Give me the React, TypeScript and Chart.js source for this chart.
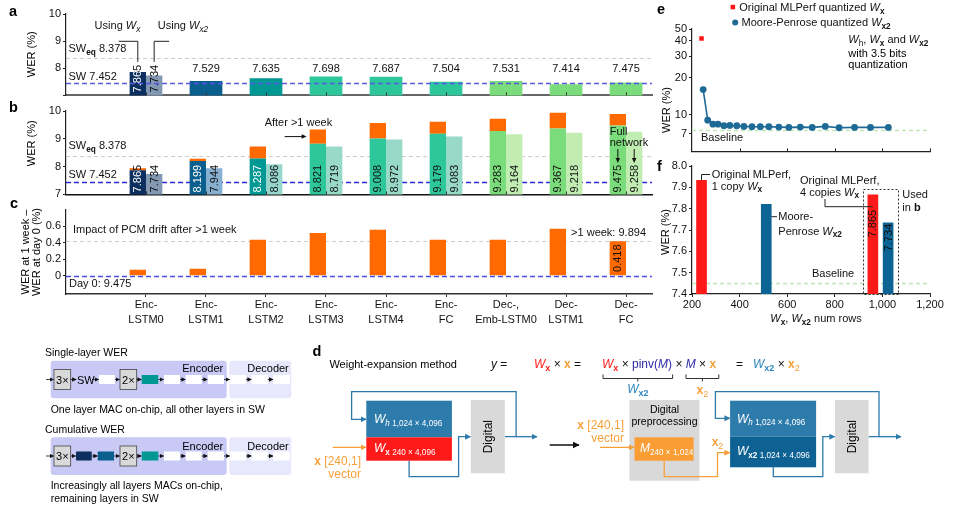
import React, { useEffect, useRef } from 'react';
import { Chart, registerables } from 'chart.js';

Chart.register(...registerables);

const FONT = '"Liberation Sans", Arial, Helvetica, sans-serif';
Chart.defaults.font.family = FONT;
Chart.defaults.font.size = 11;
Chart.defaults.color = '#111';

// ---------------- data ----------------
const layerLabels = [
  ['Enc-', 'LSTM0'], ['Enc-', 'LSTM1'], ['Enc-', 'LSTM2'], ['Enc-', 'LSTM3'], ['Enc-', 'LSTM4'],
  ['Enc-', 'FC'], ['Dec-,', 'Emb-LSTM0'], ['Dec-', 'LSTM1'], ['Dec-', 'FC'],
];
const singleWerWx = [7.865, 7.529, 7.635, 7.698, 7.687, 7.504, 7.531, 7.414, 7.475];
const singleWerWx2 = [7.734, null, null, null, null, null, null, null, null];
const cumWerDay0 = [7.865, 8.199, 8.287, 8.821, 9.008, 9.179, 9.283, 9.367, 9.475];
const cumWerWx2 = [7.734, 7.944, 8.086, 8.719, 8.972, 9.083, 9.164, 9.218, 9.258];
const driftWeek = [0.073, 0.085, 0.436, 0.517, 0.557, 0.436, 0.436, 0.569, 0.418];
const swWer = 7.452;
const swEqWer = 8.378;
const fullNetWeekWer = 9.894;
const layerDark = ['#0c2f5f', '#0b5f8e', '#009893', '#2dc79b', '#2dc79b', '#2dc79b', '#7bdc7b', '#7bdc7b', '#7bdc7b'];
const layerLight = ['#8298b3', '#87afd0', '#97d6cd', '#98d9c7', '#98d9c7', '#98d9c7', '#c1edb3', '#c1edb3', '#c1edb3'];
const driftColor = '#ff6a00';
const werTicksAB = [7, 8, 9, 10];
const driftTicks = [0, 0.2, 0.4, 0.6];

const pinvRows = [247, 266, 288, 309, 334, 359, 388, 418, 452, 487, 523, 565, 607, 655, 705, 760, 818, 883, 950, 1025];
const pinvWer = [16.0, 9.0, 8.35, 8.35, 8.1, 8.15, 8.1, 8.0, 7.95, 7.95, 7.95, 7.9, 7.85, 7.9, 7.85, 8.0, 7.8, 7.85, 7.85, 7.85];
const origRows = [240];
const origWer = [41.9];
const baselineWer = 7.452;
const eWerTicks = [7, 10, 20, 30, 40, 50];
const rowTicks = [200, 400, 600, 800, 1000, 1200];
const fOrigRows = [240, 960];
const fOrigWer = [7.933, 7.865];
const fPinvRows = [512, 1024];
const fPinvWer = [7.82, 7.734];
const fWerTicks = [7.4, 7.5, 7.6, 7.7, 7.8, 7.9, 8.0];

// ---------------- helpers ----------------
type Seg = { t: string; i?: boolean; b?: boolean; sub?: boolean; c?: string };
const fontStr = (size: number, s: any) => `${s.i ? 'italic ' : ''}${s.b ? 'bold ' : ''}${size}px ${FONT}`;

function drawRich(ctx: any, segs: Seg[], x: number, y: number, size = 11, color = '#111', align = 'left') {
  ctx.save();
  ctx.textBaseline = 'middle';
  ctx.textAlign = 'left';
  const sz = (s: Seg) => (s.sub ? size * 0.75 : size);
  let w = 0;
  for (const s of segs) { ctx.font = fontStr(sz(s), s); w += ctx.measureText(s.t).width; }
  let cx = align === 'left' ? x : align === 'center' ? x - w / 2 : x - w;
  for (const s of segs) {
    ctx.font = fontStr(sz(s), s);
    ctx.fillStyle = s.c || color;
    ctx.fillText(s.t, cx, s.sub ? y + size * 0.3 : y);
    cx += ctx.measureText(s.t).width;
  }
  ctx.restore();
}

function rotText(ctx: any, text: string, x: number, y: number, color: string, align = 'left', size = 11) {
  ctx.save();
  ctx.translate(x, y);
  ctx.rotate(-Math.PI / 2);
  ctx.font = `${size}px ${FONT}`;
  ctx.fillStyle = color;
  ctx.textAlign = align;
  ctx.textBaseline = 'middle';
  ctx.fillText(text, 0, 0.5);
  ctx.restore();
}

function barLabel(ctx: any, bar: any, text: string, yStart: number, white: boolean) {
  if (!white) { rotText(ctx, text, bar.x, yStart, '#111'); return; }
  ctx.save();
  ctx.beginPath(); ctx.rect(bar.x - 20, 0, 40, bar.y); ctx.clip();
  rotText(ctx, text, bar.x, yStart, '#111');
  ctx.restore();
  ctx.save();
  ctx.beginPath(); ctx.rect(bar.x - bar.width / 2, bar.y, bar.width, bar.base - bar.y); ctx.clip();
  rotText(ctx, text, bar.x, yStart, '#fff');
  ctx.restore();
}

function hLine(chart: any, value: number, color: string, dash: number[], width = 1) {
  const { ctx, chartArea: ca, scales: { y } } = chart;
  const py = Math.round(y.getPixelForValue(value)) + 0.5;
  ctx.save();
  ctx.strokeStyle = color; ctx.lineWidth = width; ctx.setLineDash(dash);
  ctx.beginPath(); ctx.moveTo(ca.left, py); ctx.lineTo(ca.right, py); ctx.stroke();
  ctx.restore();
}

function innerTicksX(chart: any, values: number[], len = 3, color = '#333') {
  const { ctx, chartArea: ca, scales: { x } } = chart;
  ctx.save(); ctx.strokeStyle = color; ctx.lineWidth = 1;
  ctx.beginPath();
  values.forEach((v) => { const px = Math.round(x.getPixelForValue(v)) + 0.5; ctx.moveTo(px, ca.bottom); ctx.lineTo(px, ca.bottom - len); });
  ctx.stroke(); ctx.restore();
}

function arrow(ctx: any, x1: number, y1: number, x2: number, y2: number, color = '#111', head = 5) {
  const a = Math.atan2(y2 - y1, x2 - x1);
  const c = Math.cos(a), s = Math.sin(a);
  ctx.save(); ctx.strokeStyle = color; ctx.fillStyle = color; ctx.lineWidth = 1;
  ctx.beginPath(); ctx.moveTo(x1, y1); ctx.lineTo(x2 - c * head * 0.8, y2 - s * head * 0.8); ctx.stroke();
  ctx.beginPath(); ctx.moveTo(x2, y2);
  ctx.lineTo(x2 - head * c + head * 0.45 * s, y2 - head * s - head * 0.45 * c);
  ctx.lineTo(x2 - head * c - head * 0.45 * s, y2 - head * s + head * 0.45 * c);
  ctx.closePath(); ctx.fill(); ctx.restore();
}

function polyline(ctx: any, pts: number[][], color = '#222') {
  ctx.save(); ctx.strokeStyle = color; ctx.lineWidth = 1;
  ctx.beginPath();
  pts.forEach(([px, py], k) => (k ? ctx.lineTo(px, py) : ctx.moveTo(px, py)));
  ctx.stroke(); ctx.restore();
}

const idxData = (ys: (number | null)[]) => ys.map((y, i) => ({ x: i, y }));
const xyData = (xs: number[], ys: number[]) => xs.map((x, i) => ({ x, y: ys[i] }));

function layerX(showLabels: boolean, height: number, borderColor: string, borderWidth: number) {
  return {
    type: 'linear', min: -1.333, max: 8.433, offset: false, z: 1,
    afterBuildTicks: (s: any) => { s.ticks = layerLabels.map((_, i) => ({ value: i })); },
    afterFit: (s: any) => { s.height = height; },
    grid: { offset: false, drawOnChartArea: false, drawTicks: showLabels, tickLength: 3, color: '#333' },
    border: { color: borderColor, width: borderWidth },
    ticks: {
      display: showLabels, autoSkip: false, maxRotation: 0, minRotation: 0, padding: 1,
      font: { size: 11, lineHeight: 1.32 }, color: '#111',
      callback: (v: any) => layerLabels[v] ?? '',
    },
  };
}

function valueY(min: number, max: number, ticks: number[], width: number, fmt: (v: number) => string, extra: any = {}) {
  return {
    type: 'linear', min, max,
    afterBuildTicks: (s: any) => { s.ticks = ticks.map((v) => ({ value: v })); },
    afterFit: (s: any) => { s.width = width; },
    grid: { drawOnChartArea: false, tickLength: 3, color: '#222' },
    border: { color: '#222', width: 1.2 },
    ticks: { padding: 2, color: '#111', font: { size: 11 }, callback: (v: any) => fmt(Number(v)) },
    ...extra,
  };
}

const baseOpts = (padding: any) => ({
  animation: false, responsive: false, maintainAspectRatio: false, events: [],
  layout: { padding },
  plugins: { legend: { display: false }, tooltip: { enabled: false } },
});

// ---------------- panel a ----------------
const plugA = {
  id: 'plugA',
  beforeDatasetsDraw(chart: any) { hLine(chart, swEqWer, '#cccccc', [4, 3], 1); },
  afterDatasetsDraw(chart: any) {
    const { ctx, chartArea: ca, scales: { y } } = chart;
    hLine(chart, swWer, '#5656e8', [5, 3], 1.5);
    innerTicksX(chart, layerLabels.map((_, i) => i));
    drawRich(ctx, [{ t: 'SW' }, { t: 'eq', sub: true, b: true }, { t: ' ' + swEqWer.toFixed(3) }], ca.left + 2.5, y.getPixelForValue(swEqWer) - 9);
    drawRich(ctx, [{ t: 'SW ' + swWer.toFixed(3) }], ca.left + 2.5, y.getPixelForValue(swWer) - 6);
    const m0 = chart.getDatasetMeta(0), m1 = chart.getDatasetMeta(1);
    singleWerWx.forEach((v, i) => {
      const bar = m0.data[i];
      const v2 = singleWerWx2[i];
      if (v2 == null) {
        drawRich(ctx, [{ t: v.toFixed(3) }], bar.x, y.getPixelForValue(8) + 1, 11, '#111', 'center');
      } else {
        const b1 = m1.data[i];
        barLabel(ctx, bar, v.toFixed(3), ca.bottom - 3, true);
        barLabel(ctx, b1, v2.toFixed(3), ca.bottom - 3, false);
        ctx.font = `11px ${FONT}`;
        const lineEnd = ca.bottom - 3 - ctx.measureText(v.toFixed(3)).width - 3;
        const ly = ca.top + 27.3;
        polyline(ctx, [[bar.x - 19, ly], [bar.x, ly], [bar.x, lineEnd]]);
        polyline(ctx, [[b1.x + 15, ly], [b1.x, ly], [b1.x, lineEnd]]);
        drawRich(ctx, [{ t: 'Using ' }, { t: 'W', i: true }, { t: 'x', i: true, sub: true }], bar.x + 2.5, ca.top + 12, 11, '#111', 'right');
        drawRich(ctx, [{ t: 'Using ' }, { t: 'W', i: true }, { t: 'x2', i: true, sub: true }], b1.x + 3.7, ca.top + 12, 11, '#111', 'left');
      }
    });
  },
};

const configA = () => ({
  type: 'bar',
  data: {
    datasets: [
      { label: 'Single-layer WER', data: idxData(singleWerWx), backgroundColor: layerDark, skipNull: true },
      { label: 'Single-layer WER, Wx2', data: idxData(singleWerWx2), backgroundColor: layerLight, skipNull: true },
    ],
  },
  options: {
    ...baseOpts({ top: 14, right: 8, left: 0, bottom: 0 }),
    datasets: { bar: { categoryPercentage: 0.545, barPercentage: 1 } },
    scales: {
      x: layerX(false, 6, '#666', 2),
      y: valueY(7, 10, werTicksAB, 66, (v) => (v === 7 ? '' : String(v))),
    },
  },
  plugins: [plugA],
});

// ---------------- panel b ----------------
const plugB = {
  id: 'plugB',
  beforeDatasetsDraw(chart: any) {
    hLine(chart, swEqWer, '#cccccc', [4, 3], 1);
    hLine(chart, swWer, '#2a2ad8', [5, 3], 1.3);
  },
  afterDatasetsDraw(chart: any) {
    const { ctx, chartArea: ca, scales: { y } } = chart;
    innerTicksX(chart, layerLabels.map((_, i) => i));
    drawRich(ctx, [{ t: 'SW' }, { t: 'eq', sub: true, b: true }, { t: ' ' + swEqWer.toFixed(3) }], ca.left + 2.5, y.getPixelForValue(swEqWer) - 10);
    drawRich(ctx, [{ t: 'SW ' + swWer.toFixed(3) }], ca.left + 2.5, y.getPixelForValue(swWer) - 7);
    const m0 = chart.getDatasetMeta(0), m1 = chart.getDatasetMeta(1), m2 = chart.getDatasetMeta(2);
    cumWerDay0.forEach((v, i) => {
      barLabel(ctx, m0.data[i], v.toFixed(3), ca.bottom - 2, i < 3);
      barLabel(ctx, m2.data[i], cumWerWx2[i].toFixed(3), ca.bottom - 2, false);
    });
    const d3 = m1.data[3];
    const ay = (d3.y + d3.base) / 2, ax2 = d3.x - d3.width / 2 - 3;
    arrow(ctx, ax2 - 22, ay, ax2, ay);
    drawRich(ctx, [{ t: 'After >1 week' }], ax2 - 42, ay - 14);
    const d8 = m0.data[8], l8 = m2.data[8];
    drawRich(ctx, [{ t: 'Full' }], d8.x - d8.width / 2, ca.top + 20.7);
    drawRich(ctx, [{ t: 'network' }], d8.x - d8.width / 2, ca.top + 32.3);
    arrow(ctx, d8.x, ca.top + 38, d8.x, ca.top + 52);
    arrow(ctx, l8.x, ca.top + 38, l8.x, ca.top + 52);
  },
};

const configB = () => ({
  type: 'bar',
  data: {
    datasets: [
      { label: 'Cumulative WER, day 0', data: idxData(cumWerDay0), backgroundColor: layerDark, stack: 'chip' },
      { label: 'After >1 week', data: idxData(driftWeek), backgroundColor: driftColor, stack: 'chip' },
      { label: 'Cumulative WER, Wx2', data: idxData(cumWerWx2), backgroundColor: layerLight, stack: 'wx2' },
    ],
  },
  options: {
    ...baseOpts({ top: 11, right: 8, left: 0, bottom: 0 }),
    datasets: { bar: { categoryPercentage: 0.545, barPercentage: 1 } },
    scales: {
      x: layerX(false, 7, '#111', 1.5),
      y: valueY(7, 10, werTicksAB, 66, (v) => String(v), { stacked: true }),
    },
  },
  plugins: [plugB],
});

// ---------------- panel c ----------------
const plugC = {
  id: 'plugC',
  beforeDatasetsDraw(chart: any) { hLine(chart, driftWeek[8], '#cccccc', [4, 3], 1); },
  afterDatasetsDraw(chart: any) {
    const { ctx, chartArea: ca, scales: { y } } = chart;
    hLine(chart, 0, '#4a4ae6', [5, 3], 1.5);
    const yw = y.getPixelForValue(driftWeek[8]);
    drawRich(ctx, [{ t: 'Impact of PCM drift after >1 week' }], ca.left + 7, yw - 11);
    drawRich(ctx, [{ t: '>1 week: ' + fullNetWeekWer.toFixed(3) }], ca.right - 6, yw - 8, 11, '#111', 'right');
    drawRich(ctx, [{ t: 'Day 0: ' + cumWerDay0[8].toFixed(3) }], ca.left + 3, y.getPixelForValue(0) + 8.5);
    const b8 = chart.getDatasetMeta(0).data[8];
    rotText(ctx, driftWeek[8].toFixed(3), b8.x, (b8.y + b8.base) / 2, '#111', 'center');
  },
};

const configC = () => ({
  type: 'bar',
  data: {
    datasets: [
      { label: 'WER at 1 week - WER at day 0', data: idxData(driftWeek), backgroundColor: driftColor },
      { label: '', data: idxData(layerLabels.map(() => null)), backgroundColor: '#fff' },
    ],
  },
  options: {
    ...baseOpts({ top: 9.5, right: 8, left: 0, bottom: 0 }),
    datasets: { bar: { categoryPercentage: 0.545, barPercentage: 1 } },
    scales: {
      x: layerX(true, 41, '#333', 1.5),
      y: valueY(-0.22, 0.8, driftTicks, 66, (v) => (v === 0 ? '0' : v.toFixed(1))),
    },
  },
  plugins: [plugC],
});

// ---------------- panel e ----------------
const plugE = {
  id: 'plugE',
  beforeDatasetsDraw(chart: any) { hLine(chart, baselineWer, '#bfe6b5', [4, 3], 1.3); },
  afterDatasetsDraw(chart: any) {
    const { ctx, chartArea: ca, scales: { y } } = chart;
    innerTicksX(chart, rowTicks.slice(1), 3, '#222');
    drawRich(ctx, [{ t: 'Baseline' }], ca.left + 9, y.getPixelForValue(baselineWer) + 8);
  },
};

const configE = () => ({
  type: 'line',
  data: {
    datasets: [
      {
        label: 'Moore-Penrose quantized Wx2', data: xyData(pinvRows, pinvWer),
        borderColor: '#1d6a96', backgroundColor: '#1d6a96', borderWidth: 1.6,
        pointRadius: 3.4, pointBorderWidth: 0, pointBackgroundColor: '#1d6a96',
      },
      {
        label: 'Original MLPerf quantized Wx', data: xyData(origRows, origWer), showLine: false,
        pointStyle: 'rect', pointRadius: 3.2, pointBorderWidth: 0, backgroundColor: '#ff1414', pointBackgroundColor: '#ff1414',
      },
    ],
  },
  options: {
    ...baseOpts({ top: 29, right: 28, left: 0, bottom: 0 }),
    scales: {
      x: {
        type: 'linear', min: 200, max: 1200, offset: false,
        afterBuildTicks: (s: any) => { s.ticks = rowTicks.map((v) => ({ value: v })); },
        afterFit: (s: any) => { s.height = 4; },
        ticks: { display: false },
        grid: { drawOnChartArea: false, drawTicks: false },
        border: { color: '#222', width: 1.2 },
      },
      y: {
        type: 'logarithmic', min: 5, max: 50,
        afterBuildTicks: (s: any) => { s.ticks = eWerTicks.map((v) => ({ value: v })); },
        afterFit: (s: any) => { s.width = 32; },
        ticks: { padding: 2, color: '#111', font: { size: 11 }, callback: (v: any) => String(v) },
        grid: { drawOnChartArea: false, tickLength: 3, color: '#222' },
        border: { color: '#222', width: 1.2 },
      },
    },
  },
  plugins: [plugE],
});

// ---------------- panel f ----------------
const plugF = {
  id: 'plugF',
  beforeDatasetsDraw(chart: any) { hLine(chart, baselineWer, '#bfe6b5', [4, 3], 1.3); },
  afterDatasetsDraw(chart: any) {
    const { ctx, chartArea: ca, scales: { y } } = chart;
    const r = chart.getDatasetMeta(0).data, b = chart.getDatasetMeta(1).data;
    drawRich(ctx, [{ t: 'Baseline' }], ca.left + 120, y.getPixelForValue(baselineWer) - 9);
    const bx0 = r[1].x - r[1].width / 2 - 4.5, bx1 = b[1].x + b[1].width / 2 + 5.5, by = r[1].y - 5.5;
    ctx.save(); ctx.strokeStyle = '#333'; ctx.lineWidth = 1; ctx.setLineDash([2, 2]);
    ctx.strokeRect(Math.round(bx0) + 0.5, Math.round(by) + 0.5, Math.round(bx1 - bx0), Math.round(ca.bottom - by));
    ctx.restore();
    rotText(ctx, fOrigWer[1].toFixed(3), r[1].x, r[1].y + 15, '#111', 'right');
    rotText(ctx, fPinvWer[1].toFixed(3), b[1].x, b[1].y + 1, '#111', 'right');
    polyline(ctx, [[r[0].x, r[0].y], [r[0].x, ca.top + 8.5], [ca.left + 18, ca.top + 8.5]]);
    drawRich(ctx, [{ t: 'Original MLPerf,' }], ca.left + 19.7, ca.top + 9);
    drawRich(ctx, [{ t: '1 copy ' }, { t: 'W', i: true }, { t: 'x', b: true, sub: true }], ca.left + 19.7, ca.top + 20.7);
    polyline(ctx, [[b[0].x + b[0].width / 2, ca.top + 50.7], [ca.left + 85, ca.top + 50.7]]);
    drawRich(ctx, [{ t: 'Moore-' }], ca.left + 86.3, ca.top + 50.7);
    drawRich(ctx, [{ t: 'Penrose ' }, { t: 'W', i: true }, { t: 'x2', b: true, sub: true }], ca.left + 86.3, ca.top + 65.7);
    drawRich(ctx, [{ t: 'Original MLPerf,' }], ca.left + 108, ca.top + 14.7);
    drawRich(ctx, [{ t: '4 copies ' }, { t: 'W', i: true }, { t: 'x', b: true, sub: true }], ca.left + 108, ca.top + 26.7);
    polyline(ctx, [[ca.left + 133, ca.top + 33], [ca.left + 133, ca.top + 40.7], [r[1].x, ca.top + 40.7]]);
    drawRich(ctx, [{ t: 'Used' }], ca.left + 210.3, ca.top + 29);
    drawRich(ctx, [{ t: 'in ' }, { t: 'b', b: true }], ca.left + 210.3, ca.top + 41.7);
  },
};

const configF = () => ({
  type: 'bar',
  data: {
    datasets: [
      { label: 'Original MLPerf', data: xyData(fOrigRows, fOrigWer), backgroundColor: '#ff1a1a', grouped: false, barThickness: 10 },
      { label: 'Moore-Penrose', data: xyData(fPinvRows, fPinvWer), backgroundColor: '#0b6494', grouped: false, barThickness: 10 },
    ],
  },
  options: {
    ...baseOpts({ top: 16, right: 28, left: 0, bottom: 0 }),
    scales: {
      x: {
        type: 'linear', min: 200, max: 1200, offset: false, z: 1,
        afterBuildTicks: (s: any) => { s.ticks = rowTicks.map((v) => ({ value: v })); },
        afterFit: (s: any) => { s.height = 31; },
        ticks: { padding: 1, color: '#111', font: { size: 11 }, maxRotation: 0, autoSkip: false, callback: (v: any) => Number(v).toLocaleString('en-US') },
        grid: { offset: false, drawOnChartArea: false, tickLength: 3, color: '#222' },
        border: { color: '#222', width: 1.2 },
      },
      y: valueY(7.4, 8.0, fWerTicks, 32, (v) => v.toFixed(1)),
    },
  },
  plugins: [plugF],
});

// ---------------- components ----------------
function ChartBox({ left, top, width, height, config }: any) {
  const ref = useRef<HTMLCanvasElement>(null);
  useEffect(() => {
    const c = new Chart(ref.current as HTMLCanvasElement, config() as any);
    return () => c.destroy();
  }, []);
  return <canvas ref={ref} width={width} height={height} style={{ position: 'absolute', left, top, width, height }} />;
}

function RT({ x, y, segs, size = 11, anchor = 'start', fill = '#111', subScale = 0.75 }: any) {
  let sh = false;
  const kids = segs.map((s: any, k: number) => {
    let dy: number | undefined;
    if (s.sub && !sh) { dy = size * 0.32; sh = true; } else if (!s.sub && sh) { dy = -size * 0.32; sh = false; }
    return (
      <tspan key={k} dy={dy} fontStyle={s.i ? 'italic' : undefined} fontWeight={s.b ? 'bold' : undefined}
        fill={s.c} fontSize={s.sub ? size * subScale : undefined}>{s.t}</tspan>
    );
  });
  return (
    <text x={x} y={y} fontSize={size} textAnchor={anchor} dominantBaseline="central" fill={fill} style={{ whiteSpace: 'pre' }}>{kids}</text>
  );
}

const RED = '#ff1a1a', ORANGE = '#f7a03a', STEEL = '#2c7bab', DBLUE = '#0d6193', GRAY = '#d9d9d9', PURP = '#2c2ca8', FBLUE = '#2e86c1';

type El = [string, number, number, string?];
const rowA: El[] = [['box', 54, 70.7, '3×'], ['sw', 76.5, 92], ['w', 99, 115], ['box', 120, 136.7, '2×'], ['teal', 141.7, 158.3],
  ['w', 164, 180], ['w', 185.7, 201.7], ['w', 207.7, 224], ['w', 230, 246], ['w', 251.7, 267.7], ['w', 273.3, 290]];
const rowB: El[] = [['box', 54, 70.7, '3×'], ['navy', 76, 91.7], ['blue', 97.7, 114], ['box', 120, 136.7, '2×'], ['teal', 141.7, 158.3],
  ['w', 164, 180], ['w', 185.7, 201.7], ['w', 207.7, 224], ['w', 230, 246], ['w', 251.7, 267.7], ['w', 273.3, 290]];
const elFill: any = { w: '#ffffff', teal: '#009893', navy: '#0c2f5f', blue: '#0b5f8e' };

function Row({ els, cy }: { els: El[]; cy: number }) {
  const out: any[] = [];
  let prev = 46;
  els.forEach(([k, x0, x1, label], i) => {
    out.push(<line key={'a' + i} x1={prev} y1={cy} x2={x0 - 0.3} y2={cy} stroke="#111" strokeWidth={0.8} markerEnd="url(#aks)" />);
    if (k === 'box') {
      out.push(<rect key={'r' + i} x={x0} y={cy - 10} width={x1 - x0} height={20} fill={GRAY} stroke="#444" strokeWidth={0.8} />);
      out.push(<text key={'t' + i} x={(x0 + x1) / 2} y={cy} textAnchor="middle" dominantBaseline="central" fontSize={11}>{label}</text>);
    } else if (k === 'sw') {
      out.push(<text key={'t' + i} x={x0 + 0.5} y={cy} dominantBaseline="central" fontSize={11}>SW</text>);
    } else {
      out.push(<rect key={'r' + i} x={x0} y={cy - 4.5} width={x1 - x0} height={9} fill={elFill[k]} />);
    }
    prev = x1;
  });
  return <g>{out}</g>;
}

function Overlay() {
  const wsub = (t: string, c?: string) => [{ t: 'W', i: true, c }, { t, b: true, sub: true, c }];
  return (
    <svg width={958} height={512} style={{ position: 'absolute', left: 0, top: 0, pointerEvents: 'none' }} fontFamily={FONT} fontSize={11}>
      <defs>
        {[['ak', '#111', 7], ['aks', '#111', 4.5], ['ab', STEEL, 6], ['ao', ORANGE, 6]].map(([id, c, s]: any) => (
          <marker key={id} id={id} viewBox="0 0 10 10" refX="9" refY="5" markerWidth={s} markerHeight={s} markerUnits="userSpaceOnUse" orient="auto">
            <path d="M0,0 L10,5 L0,10 z" fill={c} />
          </marker>
        ))}
      </defs>

      {[['a', 9, 10.5], ['b', 9, 107], ['c', 10, 203.3], ['d', 312.6, 351], ['e', 657, 9], ['f', 657, 166]].map(([t, x, y]: any) => (
        <text key={t} x={x} y={y} fontWeight="bold" fontSize={14.5} dominantBaseline="central">{t}</text>
      ))}

      <text transform="translate(31,54.3) rotate(-90)" textAnchor="middle" dominantBaseline="central">WER (%)</text>
      <text transform="translate(31,143.3) rotate(-90)" textAnchor="middle" dominantBaseline="central">WER (%)</text>
      <text transform="translate(25,252) rotate(-90)" textAnchor="middle" dominantBaseline="central">WER at 1 week –</text>
      <text transform="translate(36,252) rotate(-90)" textAnchor="middle" dominantBaseline="central">WER at day 0 (%)</text>
      <text transform="translate(666,110) rotate(-90)" textAnchor="middle" dominantBaseline="central">WER (%)</text>
      <text transform="translate(665,232) rotate(-90)" textAnchor="middle" dominantBaseline="central">WER (%)</text>
      <RT x={816} y={318} anchor="middle" segs={[...wsub('x'), { t: ', ' }, ...wsub('x2'), { t: ' num rows' }]} />

      <rect x={730.6} y={4.8} width={4.5} height={4.5} fill="#ff1414" />
      <RT x={739.3} y={7} segs={[{ t: 'Original MLPerf quantized ' }, ...wsub('x')]} />
      <circle cx={735.2} cy={22.5} r={3} fill="#1d6a96" />
      <RT x={741.5} y={22} segs={[{ t: 'Moore-Penrose quantized ' }, ...wsub('x2')]} />
      <RT x={848.3} y={39.3} segs={[{ t: 'W', i: true }, { t: 'h', sub: true }, { t: ', ' }, ...wsub('x'), { t: ' and ' }, ...wsub('x2')]} />
      <text x={848.3} y={52.7} dominantBaseline="central">with 3.5 bits</text>
      <text x={848.3} y={64.3} dominantBaseline="central">quantization</text>

      <text x={45} y={352} dominantBaseline="central" fontSize={10.5}>Single-layer WER</text>
      <rect x={50.7} y={360.7} width={176} height={37.6} rx={3} fill="#c9c9f6" />
      <rect x={229.3} y={360.7} width={62} height={37.6} rx={3} fill="#e8e8fc" />
      <text x={202.7} y={368.3} textAnchor="middle" dominantBaseline="central">Encoder</text>
      <text x={268} y={368.3} textAnchor="middle" dominantBaseline="central">Decoder</text>
      <Row els={rowA} cy={379.5} />
      <text x={50.7} y={409} dominantBaseline="central" fontSize={10.5}>One layer MAC on-chip, all other layers in SW</text>
      <text x={45} y={429} dominantBaseline="central" fontSize={10.5}>Cumulative WER</text>
      <rect x={50.7} y={437.3} width={176} height={37.7} rx={3} fill="#c9c9f6" />
      <rect x={229.3} y={437.3} width={62} height={37.7} rx={3} fill="#e8e8fc" />
      <text x={202.7} y={445.7} textAnchor="middle" dominantBaseline="central">Encoder</text>
      <text x={268} y={445.7} textAnchor="middle" dominantBaseline="central">Decoder</text>
      <Row els={rowB} cy={456} />
      <text x={50.7} y={485} dominantBaseline="central" fontSize={10.5}>Increasingly all layers MACs on-chip,</text>
      <text x={50.7} y={497.7} dominantBaseline="central" fontSize={10.5}>remaining layers in SW</text>

      <text x={329.4} y={364.3} dominantBaseline="central">Weight-expansion method</text>
      <RT x={491} y={364} size={12} segs={[{ t: 'y', i: true }, { t: ' =' }]} />
      <RT x={534} y={364} size={12} segs={[...wsub('x', RED), { t: ' × ' }, { t: 'x', b: true, c: ORANGE }, { t: ' =' }]} />
      <RT x={602} y={364} size={12} segs={[...wsub('x', RED), { t: ' × ' }, { t: 'pinv(', c: PURP }, { t: 'M', i: true, c: PURP }, { t: ')', c: PURP }, { t: ' × ' }, { t: 'M', i: true, c: PURP }, { t: ' × ' }, { t: 'x', b: true, c: ORANGE }]} />
      <RT x={736} y={364} size={12} segs={[{ t: '=   ' }, ...wsub('x2', FBLUE), { t: ' × ' }, { t: 'x', b: true, c: ORANGE }, { t: '2', sub: true, c: ORANGE }]} />
      <path d="M603,374.5 V378.5 H672.6 V374.5 M637.8,378.5 V381.5 M686,374.5 V378.5 H718.8 V374.5 M702.4,378.5 V381.5" stroke="#333" fill="none" strokeWidth={1} />
      <RT x={637.8} y={389} anchor="middle" size={12} segs={wsub('x2', FBLUE)} />
      <RT x={702.4} y={390} anchor="middle" size={12} segs={[{ t: 'x', b: true, c: ORANGE }, { t: '2', sub: true, c: ORANGE }]} />

      <polyline points="504.8,436.7 516.1,436.7 516.1,391.7 351.6,391.7 351.6,419.3 366,419.3" fill="none" stroke={STEEL} strokeWidth={1.3} markerEnd="url(#ab)" />
      <line x1={516.1} y1={436.7} x2={537} y2={436.7} stroke={STEEL} strokeWidth={1.3} markerEnd="url(#ab)" />
      <polyline points="409.1,460.7 409.1,476.7 458.6,476.7 458.6,436.7 470.5,436.7" fill="none" stroke={STEEL} strokeWidth={1.3} markerEnd="url(#ab)" />
      <rect x={366.3} y={400.7} width={85.6} height={36.6} fill={STEEL} />
      <rect x={366.3} y={437.3} width={85.6} height={23.4} fill={RED} />
      <RT x={374} y={419} size={12} fill="#fff" subScale={0.68} segs={[{ t: 'W', i: true }, { t: 'h', i: true, sub: true }, { t: ' 1,024 × 4,096', sub: true }]} />
      <RT x={374} y={448} size={12} fill="#fff" subScale={0.68} segs={[{ t: 'W', i: true }, { t: 'x', b: true, sub: true }, { t: ' 240 × 4,096', sub: true }]} />
      <rect x={470.8} y={400} width={34} height={73.3} fill={GRAY} />
      <text transform="translate(487.8,436.7) rotate(-90)" textAnchor="middle" dominantBaseline="central" fontSize={12}>Digital</text>
      <line x1={332.7} y1={447.3} x2={366} y2={447.3} stroke={ORANGE} strokeWidth={1.3} markerEnd="url(#ao)" />
      <RT x={361} y={460.7} anchor="end" size={12} fill={ORANGE} segs={[{ t: 'x', b: true }, { t: ' [240,1]' }]} />
      <text x={361} y={474} textAnchor="end" dominantBaseline="central" fontSize={12} fill={ORANGE}>vector</text>

      <line x1={549.7} y1={445} x2={579} y2={445} stroke="#111" strokeWidth={1.5} markerEnd="url(#ak)" />

      <rect x={629.4} y={400} width={70.1} height={80.7} fill={GRAY} />
      <text x={664.5} y={409} textAnchor="middle" dominantBaseline="central" fontSize={10.5}>Digital</text>
      <text x={664.5} y={420.5} textAnchor="middle" dominantBaseline="central" fontSize={10.5}>preprocessing</text>
      <RT x={624} y={425} anchor="end" size={12} fill={ORANGE} segs={[{ t: 'x', b: true }, { t: ' [240,1]' }]} />
      <text x={624} y={438.3} textAnchor="end" dominantBaseline="central" fontSize={12} fill={ORANGE}>vector</text>
      <line x1={600} y1={447.3} x2={634.2} y2={447.3} stroke={ORANGE} strokeWidth={1.3} markerEnd="url(#ao)" />
      <rect x={634.5} y={437.3} width={59.1} height={23.4} fill="#f99d34" />
      <RT x={640} y={448} size={12} fill="#fff" subScale={0.68} segs={[{ t: 'M', i: true }, { t: '240 × 1,024', sub: true }]} />
      <polyline points="664.2,460.7 664.2,476.7 717.5,476.7 717.5,452.7 729.8,452.7" fill="none" stroke={ORANGE} strokeWidth={1.3} markerEnd="url(#ao)" />
      <RT x={717.5} y={441.7} anchor="middle" size={12} segs={[{ t: 'x', b: true, c: ORANGE }, { t: '2', sub: true, c: ORANGE }]} />
      <polyline points="868.6,436.7 879,436.7 879,391.7 715.4,391.7 715.4,418.3 729.8,418.3" fill="none" stroke={STEEL} strokeWidth={1.3} markerEnd="url(#ab)" />
      <line x1={879} y1={436.7} x2={901} y2={436.7} stroke={STEEL} strokeWidth={1.3} markerEnd="url(#ab)" />
      <polyline points="773.3,467.3 773.3,476.7 822.8,476.7 822.8,436.7 834.7,436.7" fill="none" stroke={STEEL} strokeWidth={1.3} markerEnd="url(#ab)" />
      <rect x={730.1} y={400.7} width={86} height={36} fill={STEEL} />
      <rect x={730.1} y={436.7} width={86} height={30.6} fill={DBLUE} />
      <RT x={737} y={418.5} size={12} fill="#fff" subScale={0.68} segs={[{ t: 'W', i: true }, { t: 'h', i: true, sub: true }, { t: ' 1,024 × 4,096', sub: true }]} />
      <RT x={737} y={451} size={12} fill="#fff" subScale={0.68} segs={[{ t: 'W', i: true }, { t: 'x2', b: true, sub: true }, { t: ' 1,024 × 4,096', sub: true }]} />
      <rect x={835} y={400} width={33.6} height={73.3} fill={GRAY} />
      <text transform="translate(851.8,436.7) rotate(-90)" textAnchor="middle" dominantBaseline="central" fontSize={12}>Digital</text>
    </svg>
  );
}

export default function App() {
  return (
    <div style={{ position: 'absolute', left: 0, top: 0, width: 958, height: 512, background: '#fff', overflow: 'hidden', fontFamily: FONT }}>
      <ChartBox left={0} top={0} width={660} height={104} config={configA} />
      <ChartBox left={0} top={100} width={660} height={103} config={configB} />
      <ChartBox left={0} top={200} width={660} height={135} config={configC} />
      <ChartBox left={660} top={0} width={298} height={160} config={configE} />
      <ChartBox left={660} top={150} width={298} height={175} config={configF} />
      <Overlay />
    </div>
  );
}
